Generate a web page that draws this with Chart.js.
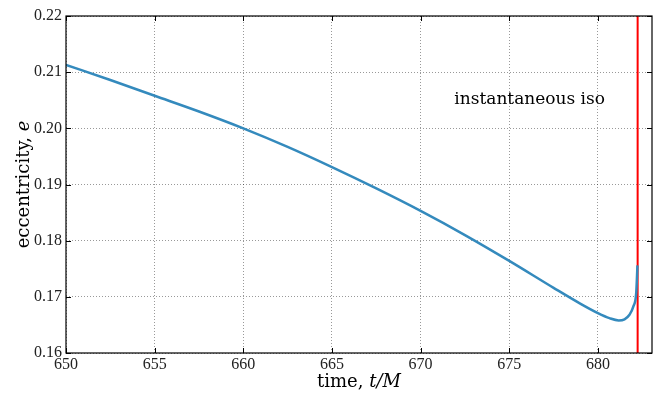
<!DOCTYPE html>
<html>
<head>
<meta charset="utf-8">
<script src="https://cdn.jsdelivr.net/npm/chart.js@4"></script>
<style>
  html, body { margin: 0; padding: 0; background: #fff; }
  #wrap { width: 661px; height: 397px; }
</style>
</head>
<body>
<div id="wrap"><canvas id="myChart" width="661" height="397"></canvas></div>
<script>
// valores
const tempos = [650, 652.5, 655, 657.5, 660, 662.5, 665, 667.5, 670, 672.5, 675, 677.5, 679, 680, 680.65, 681.17, 681.5, 681.78, 682.0, 682.16, 682.23];
const excentricidades = [0.2113, 0.2086, 0.2058, 0.2030, 0.2000, 0.1967, 0.1931, 0.1893, 0.1853, 0.1810, 0.1764, 0.1716, 0.1688, 0.1671, 0.1662, 0.1658, 0.1660, 0.1668, 0.1683, 0.1707, 0.1756];
const tIso = 682.24;
const rotuloIso = 'instantaneous iso';
const posRotulo = { t: 671.9, e: 0.2052 };

const SERIF = '"Liberation Serif", "DejaVu Serif", serif';
const SERIF_LARGA = '"DejaVu Serif", serif';

// moldura, ticks para dentro, titulos e rotulo
const extras = {
  id: 'extras',
  afterDraw(chart) {
    const { ctx, chartArea: a, scales: { x, y } } = chart;
    ctx.save();
    ctx.strokeStyle = '#000';
    ctx.lineWidth = 1.2;
    ctx.strokeRect(a.left, a.top, a.right - a.left, a.bottom - a.top);
    ctx.lineWidth = 1;
    ctx.beginPath();
    x.ticks.forEach(tk => {
      const px = Math.round(x.getPixelForValue(tk.value)) + 0.5;
      ctx.moveTo(px, a.bottom); ctx.lineTo(px, a.bottom - 5);
      ctx.moveTo(px, a.top); ctx.lineTo(px, a.top + 5);
    });
    y.ticks.forEach(tk => {
      const py = Math.round(y.getPixelForValue(tk.value)) + 0.5;
      ctx.moveTo(a.left, py); ctx.lineTo(a.left + 5, py);
      ctx.moveTo(a.right, py); ctx.lineTo(a.right - 5, py);
    });
    ctx.stroke();

    ctx.fillStyle = '#000';
    ctx.textBaseline = 'alphabetic';
    // titulo x
    const partesX = [['time, ', '18px ' + SERIF_LARGA], ['t/M', 'italic 18px ' + SERIF_LARGA]];
    let larg = 0;
    partesX.forEach(([s, f]) => { ctx.font = f; larg += ctx.measureText(s).width; });
    let cx = (a.left + a.right) / 2 - larg / 2;
    partesX.forEach(([s, f]) => { ctx.font = f; ctx.fillText(s, cx, 387); cx += ctx.measureText(s).width; });
    // titulo y
    ctx.save();
    ctx.translate(29, (a.top + a.bottom) / 2);
    ctx.rotate(-Math.PI / 2);
    const partesY = [['eccentricity, ', '18px ' + SERIF_LARGA], ['e', 'italic 18px ' + SERIF_LARGA]];
    larg = 0;
    partesY.forEach(([s, f]) => { ctx.font = f; larg += ctx.measureText(s).width; });
    cx = -larg / 2;
    partesY.forEach(([s, f]) => { ctx.font = f; ctx.fillText(s, cx, 0); cx += ctx.measureText(s).width; });
    ctx.restore();
    // rotulo
    ctx.font = '17px ' + SERIF_LARGA;
    ctx.textBaseline = 'middle';
    ctx.fillText(rotuloIso, x.getPixelForValue(posRotulo.t), y.getPixelForValue(posRotulo.e));
    ctx.restore();
  }
};

const ctx = document.getElementById('myChart').getContext('2d');
new Chart(ctx, {
  type: 'line',
  data: {
    datasets: [
      {
        data: tempos.map((t, i) => ({ x: t, y: excentricidades[i] })),
        borderColor: '#348ABD',
        borderWidth: 2.5,
        pointRadius: 0,
        cubicInterpolationMode: 'monotone',
        fill: false
      },
      {
        data: [{ x: tIso, y: 0.16 }, { x: tIso, y: 0.22 }],
        borderColor: '#ff0000',
        borderWidth: 2,
        pointRadius: 0,
        fill: false
      }
    ]
  },
  options: {
    responsive: false,
    animation: false,
    layout: { padding: { top: 16, right: 9, left: 0, bottom: 0 } },
    plugins: { legend: { display: false }, tooltip: { enabled: false } },
    scales: {
      x: {
        type: 'linear',
        min: 650, max: 683.05,
        afterFit: s => { s.height = 44; },
        border: { display: false, dash: [1, 2] },
        grid: { color: 'rgba(0,0,0,0.4)', lineWidth: 1, drawTicks: false },
        ticks: {
          stepSize: 5, includeBounds: false, padding: 2,
          color: '#222', font: { family: SERIF, size: 16 },
          callback: v => String(v)
        }
      },
      y: {
        min: 0.16, max: 0.22,
        afterFit: s => { s.width = 66; },
        border: { display: false, dash: [1, 2] },
        grid: { color: 'rgba(0,0,0,0.4)', lineWidth: 1, drawTicks: false },
        ticks: {
          stepSize: 0.01, padding: 4,
          color: '#222', font: { family: SERIF, size: 16 },
          callback: v => Number(v).toFixed(2)
        }
      }
    }
  },
  plugins: [extras]
});
</script>
</body>
</html>
